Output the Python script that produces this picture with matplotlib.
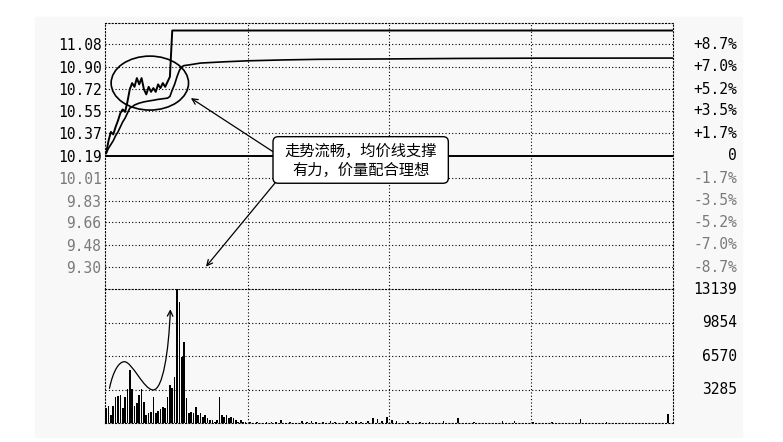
import matplotlib
matplotlib.use('Agg')
import matplotlib.pyplot as plt
import matplotlib.transforms as mtransforms
from matplotlib.patches import Ellipse, FancyBboxPatch, FancyArrowPatch, Rectangle
from matplotlib.path import Path

# intraday price line (minute, price)
price_min = list(range(29)) + [240]
price_val = [10.21, 10.31, 10.38, 10.36, 10.42, 10.47, 10.53, 10.56, 10.54, 10.62,
             10.72, 10.77, 10.74, 10.81, 10.76, 10.81, 10.72, 10.68, 10.74, 10.70,
             10.73, 10.70, 10.76, 10.73, 10.77, 10.74, 10.78, 10.82, 11.19, 11.19]

# average price line
avg_min = [0, 1, 2, 3, 4, 5, 6, 7, 8, 9, 10, 11, 12,
           14, 16, 18, 20, 22, 24, 26,
           27, 28, 29, 30, 31, 32, 33,
           35, 40, 45, 50, 60, 75, 90, 120, 150, 180, 240]
avg_val = [10.21, 10.25, 10.28, 10.31, 10.35, 10.38, 10.42, 10.46, 10.49, 10.53, 10.57, 10.58, 10.595,
           10.61, 10.62, 10.627, 10.633, 10.64, 10.645, 10.65,
           10.663, 10.715, 10.76, 10.82, 10.87, 10.90, 10.91,
           10.915, 10.93, 10.935, 10.94, 10.948, 10.955, 10.96, 10.963, 10.967, 10.969, 10.97]

# volume, first hour (one bar per minute)
vol_early = [1530, 1700, 815, 1700, 2550, 2680, 2775, 1500, 2550, 3335,
             5225, 3360, 1700, 1960, 2775, 3335, 2120, 815, 1040, 1140,
             2550, 1040, 1240, 1370, 1570, 1500, 2580, 3755, 3430, 4570,
             13139, 11925, 6470, 8000, 2450, 980, 1140, 980, 1630, 815,
             980, 650, 815, 490, 325, 325, 160, 325, 2550, 815,
             650, 815, 490, 650, 490, 325, 160, 325, 160, 100]
# volume, rest of the day (only the visible bars)
late_min = [61, 64, 68, 70, 72, 74, 78, 83, 85, 87, 89, 92, 95, 97, 102, 104, 106, 108,
            111, 113, 115, 117, 119, 121, 123, 128, 133, 137, 143, 149, 156, 168, 173,
            181, 189, 201, 212, 238]
late_vol = [100, 80, 130, 160, 100, 330, 80, 230, 160, 260, 160, 100, 260, 160, 230, 160, 260, 130,
            260, 490, 390, 260, 650, 330, 260, 230, 160, 130, 260, 490, 100, 230, 260,
            100, 160, 390, 100, 915]

price_ticks = [11.08, 10.90, 10.72, 10.55, 10.37, 10.19, 10.01, 9.83, 9.66, 9.48, 9.30]
pct_labels = ['+8.7%', '+7.0%', '+5.2%', '+3.5%', '+1.7%', '0',
              '-1.7%', '-3.5%', '-5.2%', '-7.0%', '-8.7%']
vol_ticks = [13139, 9854, 6570, 3285]
prev_close = 10.19

note_lines = ['走势流畅，均价线支撑', '有力，价量配合理想']

W, H = 783, 442
DOT = (0, (1, 2))
GRAY = '#7a7a7a'
MONO = 'DejaVu Sans Mono'
CJK = ['Noto Sans CJK SC', 'DejaVu Sans']

fig = plt.figure(figsize=(W / 100, H / 100), dpi=100)
fig.patch.set_facecolor('white')
bg = Rectangle((35 / W, 1 - 437 / H), (742 - 35) / W, (437 - 17) / H,
               transform=fig.transFigure, color='#f8f8f8', zorder=-10)
fig.add_artist(bg)


def px_axes(x0, y0, x1, y1):
    a = fig.add_axes([x0 / W, 1 - y1 / H, (x1 - x0) / W, (y1 - y0) / H])
    a.set_facecolor('none')
    return a


ax = px_axes(105, 23, 672.5, 289.3)
axv = px_axes(105, 289.3, 672.5, 423.3)

for a in (ax, axv):
    a.set_xlim(-0.5, 240)
    a.set_xticks([])
    for m in (60, 120, 180):
        a.axvline(m, color='k', lw=0.8, ls=DOT)
    for s in a.spines.values():
        s.set_linestyle(DOT)
        s.set_linewidth(0.8)

# ---- price panel
ax.set_ylim(9.123, 11.25)
ax.spines['bottom'].set_visible(False)
for p in price_ticks:
    if p == prev_close:
        ax.axhline(p, color='k', lw=1.4)
    else:
        ax.axhline(p, color='k', lw=0.8, ls=DOT)

ax.plot(avg_min, avg_val, color='k', lw=1.2)
ax.plot(price_min, price_val, color='k', lw=1.4)

ax.set_yticks(price_ticks)
ax.set_yticklabels([f'{p:.2f}' for p in price_ticks])
ax.tick_params(axis='y', length=0, pad=2.5, labelsize=10.5)
for lbl, p in zip(ax.get_yticklabels(), price_ticks):
    lbl.set_family(MONO)
    lbl.set_color(GRAY if p < prev_close else 'black')

tr = mtransforms.blended_transform_factory(ax.transAxes, ax.transData)
for p, s in zip(price_ticks, pct_labels):
    ax.text(1.1137, p, s, transform=tr, ha='right', va='center', fontsize=10.5,
            family=MONO, color=GRAY if p < prev_close else 'black')

# annotation: ellipse, box and arrows
ax.add_patch(Ellipse((18.5, 10.77), 32.8, 0.431, fill=False, ec='k', lw=1.2, zorder=5))
ax.annotate('', xy=(35.9, 10.65), xytext=(70.7, 10.222),
            arrowprops=dict(arrowstyle='->', lw=0.9, shrinkA=0, shrinkB=0, mutation_scale=10))
ax.annotate('', xy=(42.3, 9.304), xytext=(71.9, 9.98),
            arrowprops=dict(arrowstyle='->', lw=0.9, shrinkA=0, shrinkB=0, mutation_scale=10))
ax.add_patch(FancyBboxPatch((70.7, 9.97), 145.0 - 70.7, 10.342 - 9.97,
                            boxstyle='round,pad=0,rounding_size=2.2', mutation_aspect=0.019,
                            fc='white', ec='k', lw=1.0, zorder=6))
ax.text(107.9, 10.222, note_lines[0], ha='center', va='center', fontsize=11, family=CJK, zorder=7)
ax.text(107.9, 10.076, note_lines[1], ha='center', va='center', fontsize=11, family=CJK, zorder=7)

# ---- volume panel
axv.set_ylim(0, vol_ticks[0])
for v in vol_ticks[1:]:
    axv.axhline(v, color='k', lw=0.8, ls=DOT)
axv.bar(range(len(vol_early)), vol_early, width=0.7, color='k')
axv.bar(late_min, late_vol, width=0.7, color='k')
axv.set_yticks([])
trv = mtransforms.blended_transform_factory(axv.transAxes, axv.transData)
for v in vol_ticks:
    axv.text(1.1137, v, str(v), transform=trv, ha='right', va='center',
             fontsize=10.5, family=MONO, color='black')

# curved arrow over the early volume
verts = [(1.4, 3432), (3.0, 5200), (5.5, 6040), (7.7, 6040),
         (11.0, 6040), (16.0, 3270), (19.9, 3270),
         (24.0, 3270), (26.5, 7000), (27.2, 11180)]
codes = [Path.MOVETO] + [Path.CURVE4] * 9
axv.add_patch(FancyArrowPatch(path=Path(verts, codes), arrowstyle='->',
                              mutation_scale=10, lw=0.9, color='k', zorder=5))

fig.savefig('out.png', dpi=100)
